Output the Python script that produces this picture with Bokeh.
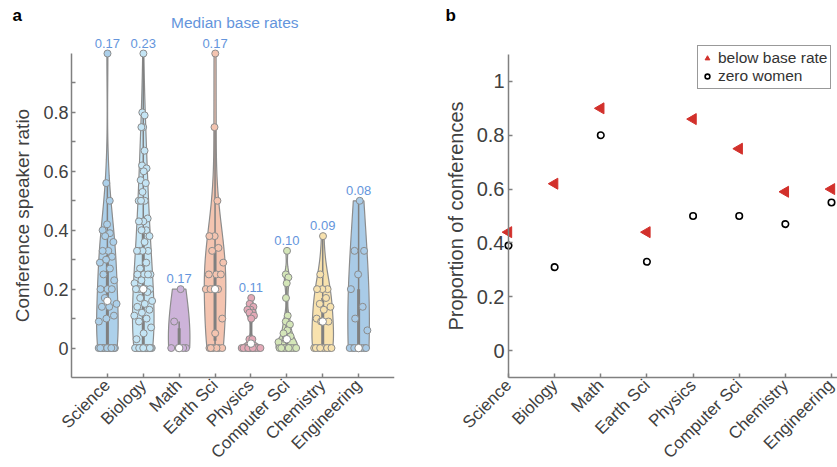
import numpy as np
from bokeh.plotting import figure
from bokeh.models import (FixedTicker, ColumnDataSource, LabelSet, Label, Legend,
                          LegendItem, Range1d)
from bokeh.core.properties import value
from bokeh.layouts import row
from bokeh.embed import file_html
from bokeh.resources import INLINE

# ---------------- data ----------------
categories = ["Science", "Biology", "Math", "Earth Sci", "Physics",
              "Computer Sci", "Chemistry", "Engineering"]

science = [1.0, 0.56, 0.5, 0.42, 0.4, 0.39, 0.38, 0.36, 0.33, 0.33, 0.31, 0.3,
           0.29, 0.27, 0.25, 0.23, 0.2, 0.2, 0.2, 0.17, 0.15, 0.14, 0.14, 0.11,
           0.1, 0.09] + [0.0] * 14
biology = [1.0, 0.8, 0.79, 0.75, 0.75, 0.67, 0.62, 0.61, 0.6, 0.57, 0.56, 0.53,
           0.5, 0.5, 0.5, 0.44, 0.43, 0.43, 0.4, 0.4, 0.38, 0.36, 0.33, 0.33,
           0.33, 0.33, 0.29, 0.27, 0.25, 0.25, 0.25, 0.25, 0.23, 0.22, 0.2, 0.2,
           0.2, 0.2, 0.2, 0.19, 0.17, 0.16, 0.15, 0.14, 0.13, 0.12, 0.11, 0.1,
           0.09, 0.07, 0.05, 0.03] + [0.0] * 20
math = [0.2, 0.09, 0.0, 0.0, 0.0, 0.0]
earth_sci = [1.0, 0.75, 0.5, 0.38, 0.38, 0.34, 0.33, 0.29, 0.25, 0.25, 0.25,
             0.2, 0.2, 0.2, 0.2, 0.1, 0.05] + [0.0] * 6
physics = [0.17, 0.15, 0.14, 0.13, 0.13, 0.12, 0.12, 0.11, 0.1, 0.03, 0.03] + [0.0] * 11
computer_sci = [0.33, 0.25, 0.24, 0.22, 0.17, 0.11, 0.09, 0.08, 0.06, 0.05,
                0.04, 0.03, 0.02] + [0.0] * 10
chemistry = [0.38, 0.25, 0.2, 0.2, 0.2, 0.17, 0.15, 0.14, 0.13, 0.1, 0.09, 0.09] + [0.0] * 9
engineering = [0.5, 0.33, 0.33, 0.25, 0.2, 0.14, 0.1, 0.06] + [0.0] * 9

groups = [science, biology, math, earth_sci, physics, computer_sci, chemistry, engineering]

median_base_rates = [0.17, 0.23, 0.17, 0.17, 0.11, 0.10, 0.09, 0.08]

below_base_rate = [0.44, 0.62, 0.90, 0.44, 0.86, 0.75, 0.59, 0.60]
zero_women = [0.39, 0.31, 0.80, 0.33, 0.50, 0.50, 0.47, 0.55]

violin_colors = ["#acd0ea", "#c4e5f5", "#cdb3d9", "#f4c4b0",
                 "#e4a9b7", "#d4e6b8", "#f8e2ae", "#a9cbe7"]

FONT = "Liberation Sans"
TXT = "#404040"
AXC = "#808080"
BLUE = "#6495dc"
RED = "#d2302b"


def style_axes(p, tick_size, label_size):
    p.outline_line_color = None
    p.xgrid.visible = False
    p.ygrid.visible = False
    p.background_fill_color = "white"
    p.border_fill_color = "white"
    for ax in [p.xaxis[0], p.yaxis[0]]:
        ax.axis_line_color = AXC
        ax.axis_line_width = 1.5
        ax.major_tick_line_color = AXC
        ax.major_tick_line_width = 1.5
        ax.minor_tick_line_color = AXC
        ax.minor_tick_line_width = 1.5
        ax.major_tick_in = 4
        ax.major_tick_out = 0
        ax.minor_tick_in = 4
        ax.minor_tick_out = 0
        ax.major_label_text_font = FONT
        ax.major_label_text_color = TXT
        ax.axis_label_text_font = FONT
        ax.axis_label_text_color = TXT
        ax.axis_label_text_font_style = "normal"
        ax.axis_label_text_font_size = label_size
    p.yaxis[0].major_label_text_font_size = tick_size
    p.xaxis[0].major_label_text_font_size = "17px"
    p.xaxis[0].major_label_orientation = np.pi / 4
    p.xaxis[0].major_label_standoff = 5
    p.xaxis[0].minor_tick_line_color = None
    p.xaxis[0].fixed_location = -0.1


positions = list(range(1, len(categories) + 1))

# ---------------- panel a ----------------
pa = figure(width=404, height=467, x_range=Range1d(-1.978, 9), y_range=Range1d(-0.4056, 1.18),
            output_backend="svg", toolbar_location=None,
            min_border_left=0, min_border_right=10, min_border_top=0, min_border_bottom=0)
style_axes(pa, "18px", "19px")
pa.yaxis[0].fixed_location = 0
pa.yaxis[0].ticker = FixedTicker(ticks=[0, 0.2, 0.4, 0.6, 0.8],
                                 minor_ticks=[0.1, 0.3, 0.5, 0.7, 0.9])
pa.yaxis[0].major_label_overrides = {0: "0"}
pa.yaxis[0].bounds = (-0.1, 1.0)
pa.yaxis[0].major_label_standoff = 3
pa.yaxis[0].axis_label = "Conference speaker ratio"
pa.yaxis[0].axis_label_standoff = 7
pa.xaxis[0].ticker = FixedTicker(ticks=positions)
pa.xaxis[0].bounds = (0, 9)
pa.xaxis[0].major_label_overrides = {p: c for p, c in zip(positions, categories)}

tops = []
for pos, data, col in zip(positions, groups, violin_colors):
    d = np.array(data, dtype=float)
    n = len(d)
    med = np.median(d)
    sig = np.median(np.abs(d - med)) / 0.6745
    if sig <= 0:
        sig = d.max() - d.min()
    bw = sig * (4.0 / (3.0 * n)) ** 0.2
    grid = np.linspace(d.min(), d.max(), 300)
    dens = np.exp(-0.5 * ((grid[:, None] - d[None, :]) / bw) ** 2).sum(axis=1) / (n * bw * np.sqrt(2 * np.pi))
    w = 0.3 / dens.max()
    xs = np.concatenate([pos + dens * w, (pos - dens * w)[::-1]])
    ys = np.concatenate([grid, grid[::-1]])
    pa.patch(xs, ys, fill_color=col, line_color="#8c8c8c", line_width=1.2)

    q1, q3 = np.percentile(d, [25, 75])
    iqr = q3 - q1
    lo = d[d >= q1 - 1.5 * iqr].min()
    hi = d[d <= q3 + 1.5 * iqr].max()
    pa.segment(x0=[pos], y0=[lo], x1=[pos], y1=[hi], line_color="#808080", line_width=1.5)
    pa.rect(x=[pos], y=[(q1 + q3) / 2], width=[3], height=[q3 - q1], width_units="screen",
            fill_color="#808080", line_color=None)

    half = np.interp(d, grid, dens) * w * 0.92
    u = ((np.arange(1, n + 1) * 0.6180339887) % 1.0) * 2 - 1
    pa.scatter(pos + u * half, d, size=7, fill_color=col, line_color="#8c8c8c", line_width=1)
    pa.scatter([pos], [med], size=7.5, fill_color="white", line_color="#8c8c8c", line_width=1)
    tops.append(d.max())

lab_src = ColumnDataSource(dict(x=positions, y=tops,
                                t=["%.2f" % v for v in median_base_rates]))
pa.add_layout(LabelSet(x="x", y="y", text="t", source=lab_src, y_offset=6,
                       text_align="center", text_baseline="alphabetic",
                       text_font=value(FONT), text_font_size=value("13px"),
                       text_color=BLUE))
pa.add_layout(Label(x=4.55, y=1.0, y_offset=31, text="Median base rates",
                    text_align="center", text_baseline="alphabetic",
                    text_font=FONT, text_font_size="15.5px", text_color=BLUE))
pa.add_layout(Label(x=0, y=1.0, x_offset=-59, y_offset=38.5, text="a",
                    text_align="left", text_baseline="alphabetic",
                    text_font=FONT, text_font_size="17px", text_font_style="bold",
                    text_color="black"))

# ---------------- panel b ----------------
pb = figure(width=433, height=467, x_range=Range1d(-1.254, 8.13), y_range=Range1d(-0.4343, 1.3006),
            output_backend="svg", toolbar_location=None,
            min_border_left=0, min_border_right=0, min_border_top=0, min_border_bottom=0)
style_axes(pb, "20px", "20px")
pb.yaxis[0].fixed_location = 1
pb.yaxis[0].ticker = FixedTicker(ticks=[0, 0.2, 0.4, 0.6, 0.8, 1.0])
pb.yaxis[0].major_label_overrides = {0: "0", 1: "1"}
pb.yaxis[0].bounds = (-0.1, 1.1)
pb.yaxis[0].major_label_standoff = 4
pb.yaxis[0].axis_label = "Proportion of conferences"
pb.yaxis[0].axis_label_standoff = 7
pb.xaxis[0].ticker = FixedTicker(ticks=positions)
pb.xaxis[0].bounds = (1, 8.13)
pb.xaxis[0].major_label_overrides = {p: c for p, c in zip(positions, categories)}

src_b = ColumnDataSource(dict(x=positions, tri=below_base_rate, zero=zero_women))
r_tri = pb.scatter("x", "tri", source=src_b, marker="triangle", angle=np.pi / 2,
                   size=11, fill_color=RED, line_color=RED)
r_circ = pb.scatter("x", "zero", source=src_b, marker="circle", size=6.5,
                    fill_color=None, line_color="black", line_width=1.6)

legend = Legend(items=[LegendItem(label="below base rate", renderers=[r_tri]),
                       LegendItem(label="zero women", renderers=[r_circ])],
                location=(293, 378), margin=0, padding=3, spacing=0,
                glyph_width=12, glyph_height=18, label_height=18, label_standoff=5,
                label_text_font=FONT, label_text_font_size="15.5px", label_text_color="#333333",
                border_line_color="#333333", border_line_width=1,
                background_fill_color="white", background_fill_alpha=1.0)
pb.add_layout(legend)
pb.add_layout(Label(x=1, y=1.1, x_offset=-63, y_offset=39, text="b",
                    text_align="left", text_baseline="alphabetic",
                    text_font=FONT, text_font_size="17px", text_font_style="bold",
                    text_color="black"))

layout = row(pa, pb)
open("out.html", "w").write(file_html(layout, INLINE))
